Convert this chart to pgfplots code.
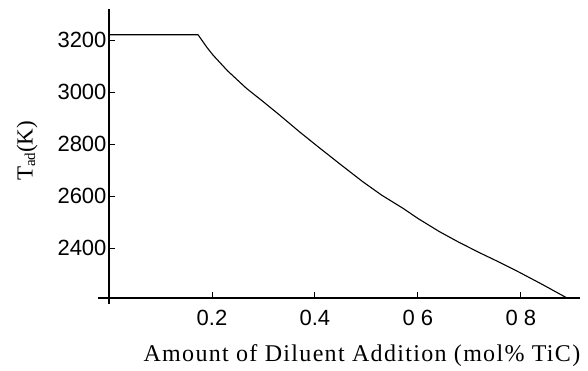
\documentclass[border=0pt]{standalone}
\usepackage{pgfplots}
\pgfplotsset{compat=1.18}
\usepackage{fontspec}
\setmainfont{Liberation Serif}
\newfontfamily\arialfont{Liberation Sans}
\begin{document}
\begin{tikzpicture}[x=1pt,y=1pt]
\path (-109,-69) rectangle (479,298);
\begin{axis}[
  at={(0,0)}, anchor=south west,
  scale only axis, width=471pt, height=289pt,
  xmin=0, xmax=0.915, ymin=2208, ymax=3319,
  axis lines=left,
  axis line style={-},
  x axis line style={line width=1.6pt},
  y axis line style={line width=1.2pt},
  xtick={0.2,0.4,0.6,0.8},
  xticklabels={0.2,0.4,0 6,0 8},
  ytick={2400,2600,2800,3000,3200},
  yticklabels={2400,2600,2800,3000,3200},
  tick align=inside,
  major tick length=6pt,
  tick style={line width=0.9pt, black},
  tick label style={font=\arialfont\fontsize{22}{25}\selectfont},
  xticklabel style={yshift=-9pt},
  yticklabel style={xshift=1pt},
  clip=false,
  xlabel={\addfontfeature{LetterSpace=5.5}Amount of Diluent Addition (mol\% TiC)},
  xlabel style={font=\fontsize{24}{28}\selectfont, at={(axis description cs:0.537,-0.221)}, anchor=base},
]
\addplot[black, line width=1.1pt, line join=round] coordinates {
(0,3220) (0.173,3220) (0.19,3172) (0.202,3142) (0.23,3082) (0.267,3014)
(0.30,2962) (0.331,2912) (0.37,2847) (0.409,2785) (0.45,2721) (0.493,2655)
(0.53,2603) (0.571,2553) (0.60,2514) (0.642,2463) (0.68,2422) (0.720,2382)
(0.76,2344) (0.797,2307) (0.84,2262) (0.888,2210)
};
\draw[line width=1.6pt] (axis cs:-0.021,2208) -- (axis cs:0,2208);
\draw[line width=1.2pt] (axis cs:0,2185) -- (axis cs:0,2208);
\node[anchor=center, font=\fontsize{23}{26}\selectfont, inner sep=0pt]
  at (axis description cs:-0.174,0.509) {\rotatebox{90}{T\raisebox{-0.25ex}{\fontsize{15}{15}\selectfont ad}(K)}};
\end{axis}
\end{tikzpicture}
\end{document}
